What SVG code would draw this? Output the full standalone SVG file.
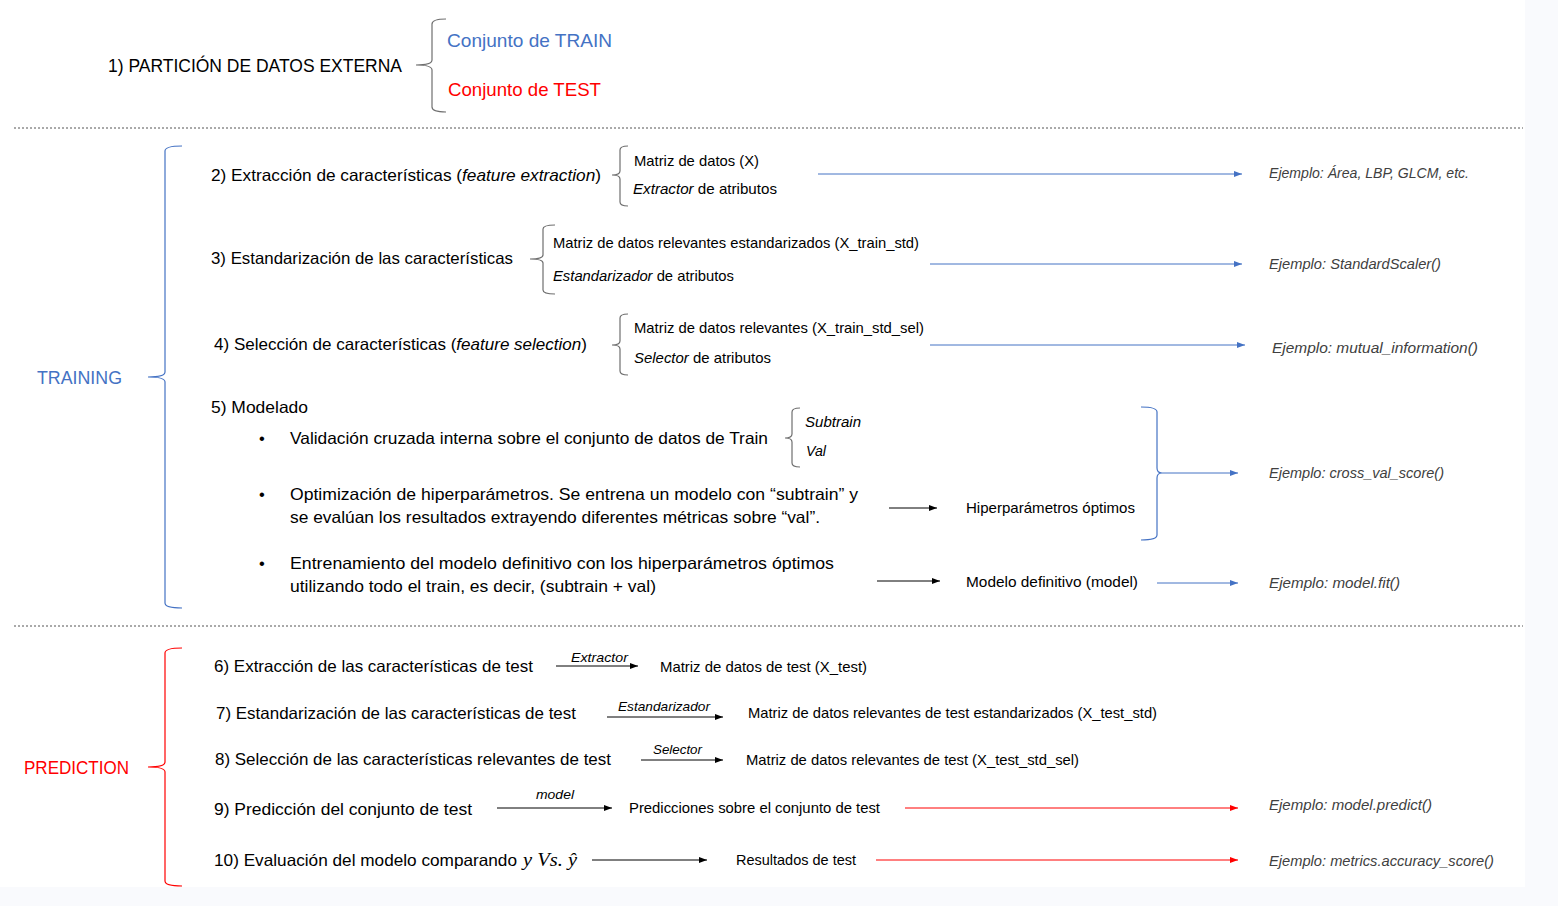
<svg xmlns="http://www.w3.org/2000/svg" width="1558" height="906" viewBox="0 0 1558 906">
<style>
text { font-family: "Liberation Sans", Arial, sans-serif; fill: #000; }
.hdr { font-size: 19px; }
.step { font-size: 16.5px; }
.sub { font-size: 14.5px; }
.ej { font-size: 15px; font-style: italic; fill: #404040; }
.lbl { font-size: 13px; font-style: italic; }
.it { font-style: italic; }
.math { font-family: "Liberation Serif", "Times New Roman", serif; font-style: italic; font-size: 18px; }
.brace { fill: none; stroke: #6f6f6f; stroke-width: 1.2; }
.braceB { fill: none; stroke: #4472C4; stroke-width: 1.2; }
.braceR { fill: none; stroke: #FF0000; stroke-width: 1.2; }
.dash { stroke: #555; stroke-width: 1; stroke-dasharray: 2 2; }
.ab { stroke: #4472C4; stroke-width: 1; marker-end: url(#mb); }
.ak { stroke: #000; stroke-width: 1; marker-end: url(#mk); }
.ar { stroke: #FF0000; stroke-width: 1; marker-end: url(#mr); }
</style>
<defs>
<marker id="mb" markerUnits="userSpaceOnUse" markerWidth="8" markerHeight="6" refX="8" refY="3" orient="auto"><path d="M0,0 L8,3 L0,6 z" fill="#4472C4"/></marker>
<marker id="mk" markerUnits="userSpaceOnUse" markerWidth="8" markerHeight="6" refX="8" refY="3" orient="auto"><path d="M0,0 L8,3 L0,6 z" fill="#000"/></marker>
<marker id="mr" markerUnits="userSpaceOnUse" markerWidth="8" markerHeight="6" refX="8" refY="3" orient="auto"><path d="M0,0 L8,3 L0,6 z" fill="#FF0000"/></marker>
</defs>
<rect x="0" y="0" width="1558" height="906" fill="#ffffff"/>
<rect x="1525" y="0" width="33" height="906" fill="#f9fafd"/>
<rect x="0" y="887" width="1558" height="19" fill="#f9fafd"/>

<g id="separators">
<line class="dash" x1="14" y1="128" x2="1523" y2="128"/>
<line class="dash" x1="14" y1="626" x2="1523" y2="626"/>
</g>

<g id="partition">
<text class="hdr" x="108" y="72" textLength="294" lengthAdjust="spacingAndGlyphs">1) PARTICIÓN DE DATOS EXTERNA</text>
<path class="brace" d="M446,19 Q432,19 432,24 L432,60 Q432,65 416,65 Q432,65 432,70 L432,107 Q432,112 446,112"/>
<text class="hdr" x="447" y="47" textLength="165" lengthAdjust="spacingAndGlyphs" style="fill:#4472C4">Conjunto de TRAIN</text>
<text class="hdr" x="448" y="96" textLength="153" lengthAdjust="spacingAndGlyphs" style="fill:#FF0000">Conjunto de TEST</text>
</g>

<g id="training">
<text class="hdr" x="37" y="384" textLength="85" lengthAdjust="spacingAndGlyphs" style="fill:#4472C4;font-size:18px">TRAINING</text>
<path class="braceB" d="M182,146 Q165,146 165,151 L165,372 Q165,377 148,377 Q165,377 165,382 L165,603 Q165,608 182,608"/>
</g>

<g id="step2">
<text class="step" x="211" y="181" textLength="390" lengthAdjust="spacingAndGlyphs">2) Extracción de características (<tspan class="it">feature extraction</tspan>)</text>
<path class="brace" d="M628,146 Q620,146 620,150 L620,171 Q620,175 612,175 Q620,175 620,179 L620,202 Q620,206 628,206"/>
<text class="sub" x="634" y="166" textLength="125" lengthAdjust="spacingAndGlyphs">Matriz de datos (X)</text>
<text class="sub" x="633" y="194" textLength="144" lengthAdjust="spacingAndGlyphs"><tspan class="it">Extractor</tspan> de atributos</text>
<text class="ej" x="1269" y="178" textLength="200" lengthAdjust="spacingAndGlyphs">Ejemplo: Área, LBP, GLCM, etc.</text>
</g>

<g id="step3">
<text class="step" x="211" y="264" textLength="302" lengthAdjust="spacingAndGlyphs">3) Estandarización de las características</text>
<path class="brace" d="M555,225 Q543,225 543,229 L543,255 Q543,259 530,259 Q543,259 543,263 L543,290 Q543,294 555,294"/>
<text class="sub" x="553" y="248" textLength="366" lengthAdjust="spacingAndGlyphs">Matriz de datos relevantes estandarizados (X_train_std)</text>
<text class="sub" x="553" y="281" textLength="181" lengthAdjust="spacingAndGlyphs"><tspan class="it">Estandarizador</tspan> de atributos</text>
<text class="ej" x="1269" y="269" textLength="172" lengthAdjust="spacingAndGlyphs">Ejemplo: StandardScaler()</text>
</g>

<g id="step4">
<text class="step" x="214" y="350" textLength="373" lengthAdjust="spacingAndGlyphs">4) Selección de características (<tspan class="it">feature selection</tspan>)</text>
<path class="brace" d="M628,314 Q620,314 620,318 L620,341 Q620,345 612,345 Q620,345 620,349 L620,371 Q620,375 628,375"/>
<text class="sub" x="634" y="333" textLength="290" lengthAdjust="spacingAndGlyphs">Matriz de datos relevantes (X_train_std_sel)</text>
<text class="sub" x="634" y="363" textLength="137" lengthAdjust="spacingAndGlyphs"><tspan class="it">Selector</tspan> de atributos</text>
<text class="ej" x="1272" y="353" textLength="206" lengthAdjust="spacingAndGlyphs">Ejemplo: mutual_information()</text>
</g>

<g id="step5">
<text class="step" x="211" y="413" textLength="97" lengthAdjust="spacingAndGlyphs">5) Modelado</text>
<text class="step" x="259" y="444">•</text>
<text class="step" x="290" y="444" textLength="478" lengthAdjust="spacingAndGlyphs">Validación cruzada interna sobre el conjunto de datos de Train</text>
<path class="brace" d="M800,408 Q792,408 792,412 L792,434 Q792,438 785,438 Q792,438 792,442 L792,463 Q792,467 800,467"/>
<text class="sub it" x="805" y="427" textLength="56" lengthAdjust="spacingAndGlyphs">Subtrain</text>
<text class="sub it" x="806" y="456" textLength="20" lengthAdjust="spacingAndGlyphs">Val</text>
<text class="step" x="259" y="500">•</text>
<text class="step" x="290" y="500" textLength="568" lengthAdjust="spacingAndGlyphs">Optimización de hiperparámetros. Se entrena un modelo con “subtrain” y</text>
<text class="step" x="290" y="523" textLength="530" lengthAdjust="spacingAndGlyphs">se evalúan los resultados extrayendo diferentes métricas sobre “val”.</text>
<text class="sub" x="966" y="513" textLength="169" lengthAdjust="spacingAndGlyphs">Hiperparámetros óptimos</text>
<text class="step" x="259" y="569">•</text>
<text class="step" x="290" y="569" textLength="544" lengthAdjust="spacingAndGlyphs">Entrenamiento del modelo definitivo con los hiperparámetros óptimos</text>
<text class="step" x="290" y="592" textLength="366" lengthAdjust="spacingAndGlyphs">utilizando todo el train, es decir, (subtrain + val)</text>
<text class="sub" x="966" y="587" textLength="172" lengthAdjust="spacingAndGlyphs">Modelo definitivo (model)</text>
<path class="braceB" d="M1141,407 Q1157,407 1157,412 L1157,468 Q1157,473 1162,473 Q1157,473 1157,478 L1157,535 Q1157,540 1141,540"/>
<text class="ej" x="1269" y="478" textLength="175" lengthAdjust="spacingAndGlyphs">Ejemplo: cross_val_score()</text>
<text class="ej" x="1269" y="588" textLength="131" lengthAdjust="spacingAndGlyphs">Ejemplo: model.fit()</text>
</g>

<g id="prediction">
<text class="hdr" x="24" y="774" textLength="105" lengthAdjust="spacingAndGlyphs" style="fill:#FF0000;font-size:18px">PREDICTION</text>
<path class="braceR" d="M182,648 Q165,648 165,653 L165,762 Q165,767 148,767 Q165,767 165,772 L165,881 Q165,886 182,886"/>
</g>

<g id="step6">
<text class="step" x="214" y="672" textLength="319" lengthAdjust="spacingAndGlyphs">6) Extracción de las características de test</text>
<text class="lbl" x="571" y="662" textLength="57" lengthAdjust="spacingAndGlyphs">Extractor</text>
<text class="sub" x="660" y="672" textLength="207" lengthAdjust="spacingAndGlyphs">Matriz de datos de test (X_test)</text>
</g>

<g id="step7">
<text class="step" x="216" y="719" textLength="360" lengthAdjust="spacingAndGlyphs">7) Estandarización de las características de test</text>
<text class="lbl" x="618" y="711" textLength="92" lengthAdjust="spacingAndGlyphs">Estandarizador</text>
<text class="sub" x="748" y="718" textLength="409" lengthAdjust="spacingAndGlyphs">Matriz de datos relevantes de test estandarizados (X_test_std)</text>
</g>

<g id="step8">
<text class="step" x="215" y="765" textLength="396" lengthAdjust="spacingAndGlyphs">8) Selección de las características relevantes de test</text>
<text class="lbl" x="653" y="754" textLength="49" lengthAdjust="spacingAndGlyphs">Selector</text>
<text class="sub" x="746" y="765" textLength="333" lengthAdjust="spacingAndGlyphs">Matriz de datos relevantes de test (X_test_std_sel)</text>
</g>

<g id="step9">
<text class="step" x="214" y="815" textLength="258" lengthAdjust="spacingAndGlyphs">9) Predicción del conjunto de test</text>
<text class="lbl" x="536" y="799" textLength="38" lengthAdjust="spacingAndGlyphs">model</text>
<text class="sub" x="629" y="813" textLength="251" lengthAdjust="spacingAndGlyphs">Predicciones sobre el conjunto de test</text>
<text class="ej" x="1269" y="810" textLength="163" lengthAdjust="spacingAndGlyphs">Ejemplo: model.predict()</text>
</g>

<g id="step10">
<text class="step" x="214" y="866" textLength="303" lengthAdjust="spacingAndGlyphs">10) Evaluación del modelo comparando</text>
<text class="math" x="523" y="866" textLength="54" lengthAdjust="spacingAndGlyphs">y Vs. ŷ</text>
<text class="sub" x="736" y="865" textLength="120" lengthAdjust="spacingAndGlyphs">Resultados de test</text>
<text class="ej" x="1269" y="866" textLength="225" lengthAdjust="spacingAndGlyphs">Ejemplo: metrics.accuracy_score()</text>
</g>

<g id="connectors">
<line class="ab" x1="818" y1="174" x2="1242" y2="174"/>
<line class="ab" x1="930" y1="264" x2="1242" y2="264"/>
<line class="ab" x1="930" y1="345" x2="1245" y2="345"/>
<line class="ab" x1="1162" y1="473" x2="1238" y2="473"/>
<line class="ab" x1="1157" y1="583" x2="1238" y2="583"/>
<line class="ak" x1="889" y1="508" x2="937" y2="508"/>
<line class="ak" x1="877" y1="581" x2="940" y2="581"/>
<line class="ak" x1="556" y1="666" x2="638" y2="666"/>
<line class="ak" x1="607" y1="717" x2="723" y2="717"/>
<line class="ak" x1="641" y1="760" x2="723" y2="760"/>
<line class="ak" x1="497" y1="808" x2="612" y2="808"/>
<line class="ak" x1="592" y1="860" x2="707" y2="860"/>
<line class="ar" x1="905" y1="808" x2="1238" y2="808"/>
<line class="ar" x1="876" y1="860" x2="1238" y2="860"/>
</g>
</svg>
